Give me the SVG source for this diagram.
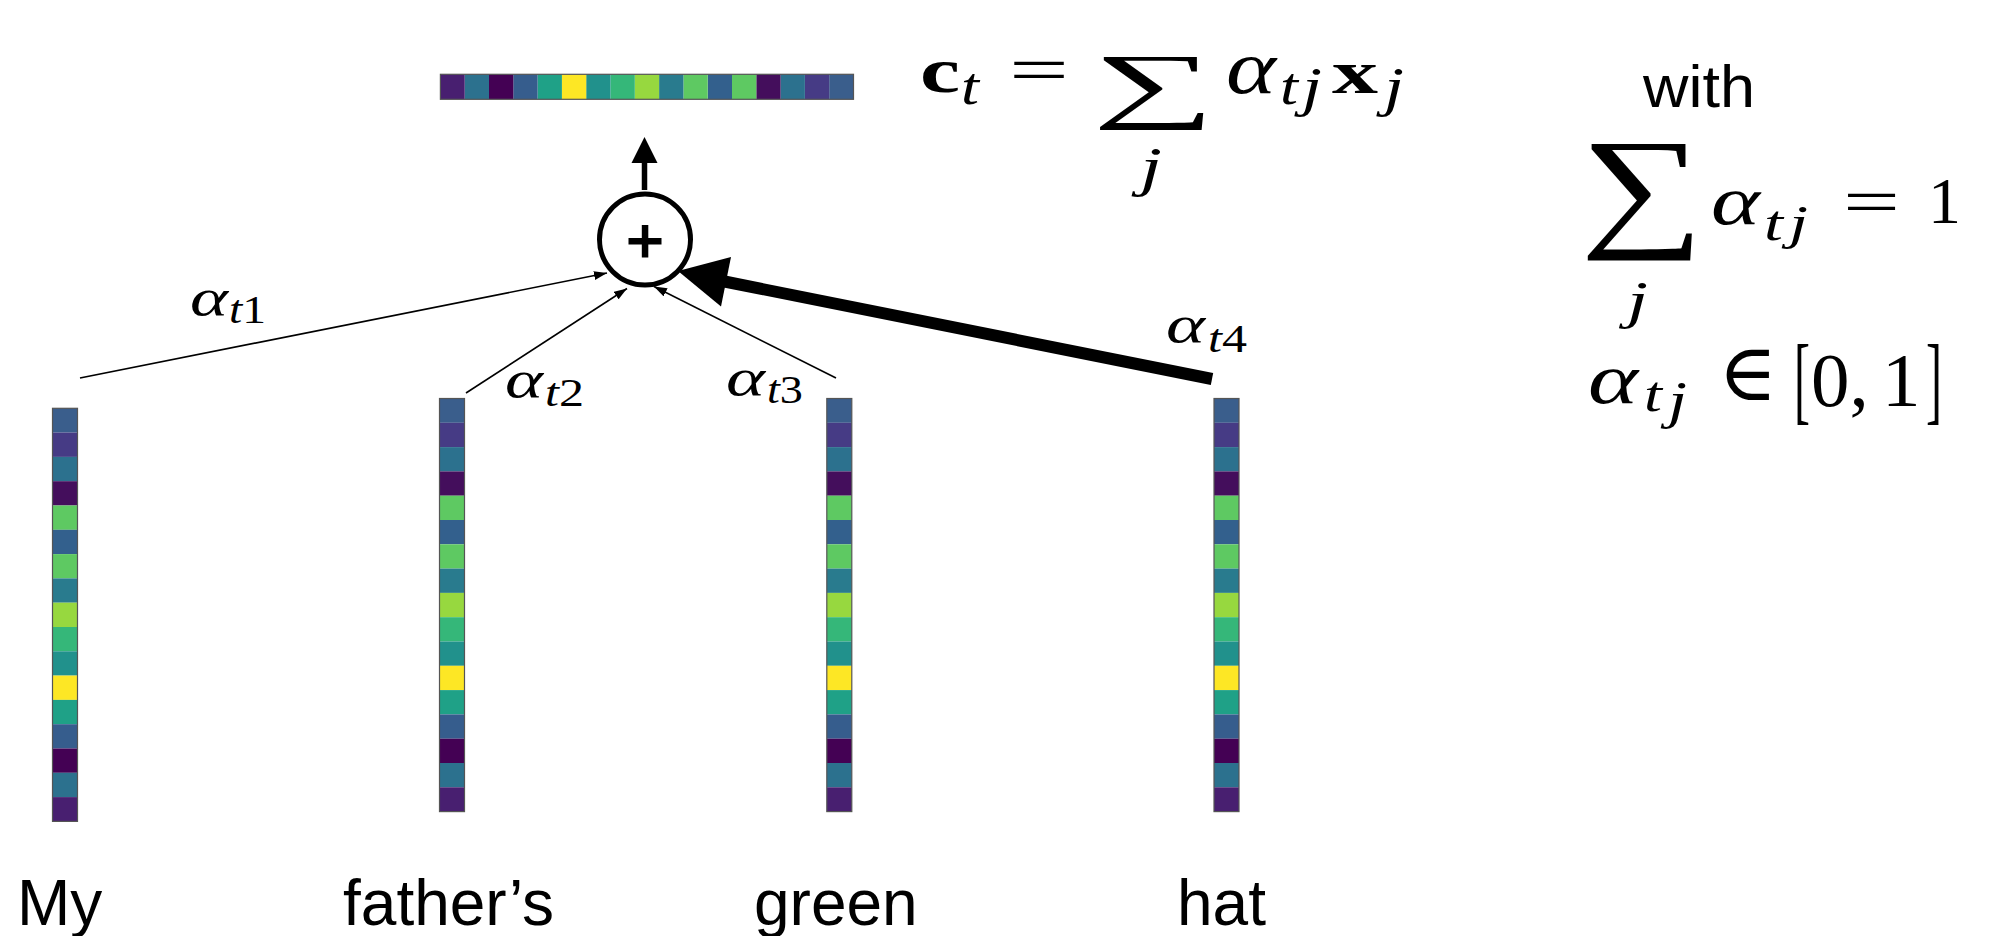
<svg xmlns="http://www.w3.org/2000/svg" xmlns:xlink="http://www.w3.org/1999/xlink" width="1990" height="936" viewBox="0 0 1990 936">
<style>
.math{font-family:"Liberation Serif","DejaVu Serif",serif;fill:#000}
.it{font-style:italic}
.bf{font-weight:bold}
.word{font-family:"Liberation Sans",Arial,sans-serif;fill:#000}
.thin{stroke:#000;stroke-width:1.6;fill:none}
</style>
<defs>
<marker id="ah" markerWidth="13" markerHeight="9" refX="13" refY="4.5" orient="auto" markerUnits="userSpaceOnUse">
<path d="M0,0 L13,4.5 L0,9 z" fill="#000"/>
</marker>
<g id="vbar">
<rect x="0" y="0" width="25" height="24.3" fill="#3a5e8c"/>
<rect x="0" y="24.3" width="25" height="24.3" fill="#463b85"/>
<rect x="0" y="48.6" width="25" height="24.3" fill="#2c718e"/>
<rect x="0" y="72.9" width="25" height="24.3" fill="#440e5c"/>
<rect x="0" y="97.2" width="25" height="24.3" fill="#5ec962"/>
<rect x="0" y="121.5" width="25" height="24.3" fill="#33608d"/>
<rect x="0" y="145.8" width="25" height="24.3" fill="#5ec962"/>
<rect x="0" y="170.1" width="25" height="24.3" fill="#297b8e"/>
<rect x="0" y="194.4" width="25" height="24.3" fill="#97d83f"/>
<rect x="0" y="218.7" width="25" height="24.3" fill="#35b779"/>
<rect x="0" y="243" width="25" height="24.3" fill="#21918c"/>
<rect x="0" y="267.3" width="25" height="24.3" fill="#fde725"/>
<rect x="0" y="291.6" width="25" height="24.3" fill="#1fa187"/>
<rect x="0" y="315.9" width="25" height="24.3" fill="#365d8d"/>
<rect x="0" y="340.2" width="25" height="24.3" fill="#440154"/>
<rect x="0" y="364.5" width="25" height="24.3" fill="#2c718e"/>
<rect x="0" y="388.8" width="25" height="24.3" fill="#481f70"/>
<rect x="0" y="0" width="25" height="413.1" fill="none" stroke="#555" stroke-width="1.2"/>
</g>
</defs>
<rect width="1990" height="936" fill="#fff"/>

<g id="context-vector">
<use xlink:href="#vbar" href="#vbar" transform="translate(853.5,74.3) rotate(90)"/>
</g>

<g id="sum-node">
<circle cx="645" cy="239.5" r="45.5" fill="#fff" stroke="#000" stroke-width="5"/>
<rect x="628.5" y="238" width="33" height="6.5" fill="#000"/>
<rect x="641.8" y="225" width="6.5" height="32.5" fill="#000"/>
</g>

<g id="word-My">
<use xlink:href="#vbar" href="#vbar" x="52.5" y="408.3"/>
<text class="word" x="17" y="925" font-size="64">My</text>
</g>
<g id="word-fathers">
<use xlink:href="#vbar" href="#vbar" x="439.5" y="398.5"/>
<text class="word" x="343" y="925" font-size="64">father’s</text>
</g>
<g id="word-green">
<use xlink:href="#vbar" href="#vbar" x="826.8" y="398.5"/>
<text class="word" x="754" y="925" font-size="64">green</text>
</g>
<g id="word-hat">
<use xlink:href="#vbar" href="#vbar" x="1214" y="398.5"/>
<text class="word" x="1177" y="925" font-size="64">hat</text>
</g>

<g id="connectors">
<line x1="644.5" y1="190" x2="644.5" y2="160" stroke="#000" stroke-width="5.5"/>
<polygon points="631.5,163 657.5,163 644.5,137" fill="#000"/>
<line class="thin" x1="80" y1="378" x2="607" y2="273" marker-end="url(#ah)"/>
<line class="thin" x1="466" y1="393" x2="627" y2="288.5" marker-end="url(#ah)"/>
<line class="thin" x1="836" y1="378" x2="654" y2="286.5" marker-end="url(#ah)"/>
<line x1="1212" y1="379" x2="712" y2="279" stroke="#000" stroke-width="12"/>
<polygon points="678,271 731,257 721,306.5" fill="#000"/>
</g>

<g id="weight-labels" class="math">
<text class="it" x="190" y="315" font-size="52" textLength="38" lengthAdjust="spacingAndGlyphs">α</text>
<text x="229" y="323" font-size="40" textLength="37" lengthAdjust="spacingAndGlyphs"><tspan class="it">t</tspan>1</text>
<text class="it" x="505" y="397" font-size="52" textLength="38" lengthAdjust="spacingAndGlyphs">α</text>
<text x="545" y="406" font-size="40" textLength="39" lengthAdjust="spacingAndGlyphs"><tspan class="it">t</tspan>2</text>
<text class="it" x="726" y="395" font-size="52" textLength="39" lengthAdjust="spacingAndGlyphs">α</text>
<text x="767" y="403" font-size="40" textLength="36" lengthAdjust="spacingAndGlyphs"><tspan class="it">t</tspan>3</text>
<text class="it" x="1166" y="342" font-size="52" textLength="39" lengthAdjust="spacingAndGlyphs">α</text>
<text x="1208" y="352" font-size="40" textLength="39" lengthAdjust="spacingAndGlyphs"><tspan class="it">t</tspan>4</text>
</g>

<g id="formula-context" class="math">
<text class="bf" x="920" y="92" font-size="64" textLength="40" lengthAdjust="spacingAndGlyphs">c</text>
<text class="it" x="961" y="104" font-size="52" textLength="18" lengthAdjust="spacingAndGlyphs">t</text>
<text x="1009" y="92" font-size="66" textLength="60" lengthAdjust="spacingAndGlyphs">=</text>
<text x="1092" y="112" font-size="84" textLength="123" lengthAdjust="spacingAndGlyphs">∑</text>
<text class="it" x="1140" y="185" font-size="54" textLength="22" lengthAdjust="spacingAndGlyphs">j</text>
<text class="it" x="1226" y="93" font-size="76" textLength="50" lengthAdjust="spacingAndGlyphs">α</text>
<text class="it" x="1280" y="104" font-size="52" textLength="18" lengthAdjust="spacingAndGlyphs">t</text>
<text class="it" x="1302" y="105" font-size="54" textLength="20" lengthAdjust="spacingAndGlyphs">j</text>
<text class="bf" x="1332" y="93" font-size="62" textLength="46" lengthAdjust="spacingAndGlyphs">x</text>
<text class="it" x="1384" y="105" font-size="54" textLength="20" lengthAdjust="spacingAndGlyphs">j</text>
</g>

<g id="formula-constraints">
<text class="word" x="1643" y="106.7" font-size="60" textLength="112" lengthAdjust="spacingAndGlyphs">with</text>
<g class="math">
<text x="1580" y="232" font-size="134" textLength="124" lengthAdjust="spacingAndGlyphs">∑</text>
<text class="it" x="1627" y="318" font-size="52" textLength="21" lengthAdjust="spacingAndGlyphs">j</text>
<text class="it" x="1711" y="224" font-size="70" textLength="49" lengthAdjust="spacingAndGlyphs">α</text>
<text class="it" x="1764" y="240" font-size="50" textLength="19" lengthAdjust="spacingAndGlyphs">t</text>
<text class="it" x="1789" y="239" font-size="48" textLength="19" lengthAdjust="spacingAndGlyphs">j</text>
<text x="1843" y="224" font-size="66" textLength="57" lengthAdjust="spacingAndGlyphs">=</text>
<text x="1928" y="223" font-size="66">1</text>
<text class="it" x="1588" y="403" font-size="72" textLength="50" lengthAdjust="spacingAndGlyphs">α</text>
<text class="it" x="1644" y="411" font-size="50" textLength="18" lengthAdjust="spacingAndGlyphs">t</text>
<text class="it" x="1668" y="418" font-size="52" textLength="19" lengthAdjust="spacingAndGlyphs">j</text>
<text x="1718" y="400" font-size="80">∈</text>
<text x="1794" y="412" font-size="97" textLength="16" lengthAdjust="spacingAndGlyphs">[</text>
<text x="1811" y="406" font-size="77">0,<tspan dx="-6"> 1</tspan></text>
<text x="1926" y="412" font-size="97" textLength="16" lengthAdjust="spacingAndGlyphs">]</text>
</g>
</g>
</svg>
